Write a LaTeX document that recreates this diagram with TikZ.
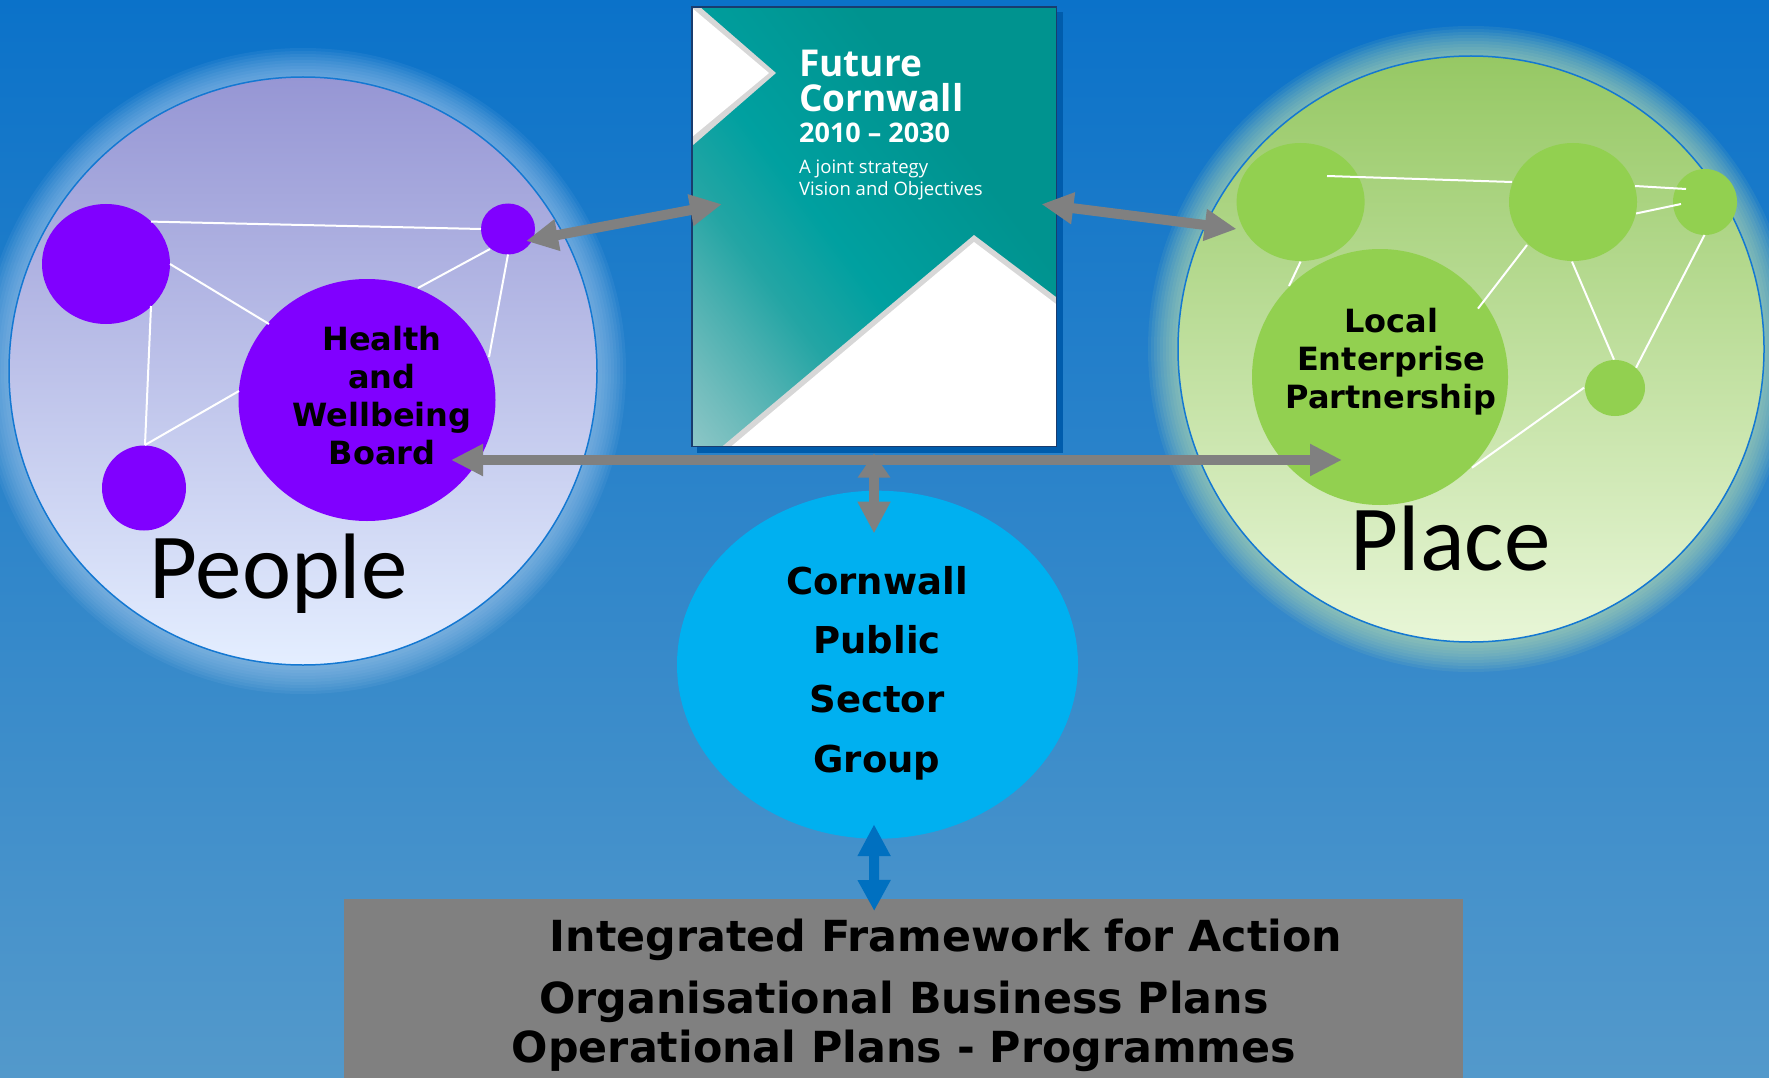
\documentclass[tikz,border=0pt]{standalone}
\usepackage{fontspec}
\newfontfamily\verd{DejaVu Sans}
\newfontfamily\carl{Carlito}
\newfontfamily\opens{Open Sans}
\usetikzlibrary{arrows.meta,shapes.geometric,calc}
\definecolor{bgtop}{RGB}{11,114,201}
\definecolor{bgbot}{RGB}{83,153,203}
\definecolor{purp}{RGB}{128,0,255}
\definecolor{grn}{RGB}{146,208,80}
\definecolor{cyanb}{RGB}{0,176,240}
\definecolor{arrowgrey}{RGB}{128,128,128}
\definecolor{boxgrey}{RGB}{128,128,128}
\definecolor{arrowblue}{RGB}{0,112,192}
\definecolor{teal1}{RGB}{0,147,143}
\definecolor{tealbright}{RGB}{0,160,160}
\definecolor{tealmidc}{RGB}{35,165,164}
\definecolor{tealmidb}{RGB}{75,176,176}
\definecolor{tealmida}{RGB}{112,188,188}
\definecolor{teallight}{RGB}{145,200,200}
\definecolor{pplTop}{RGB}{150,150,212}
\definecolor{pplBot}{RGB}{228,238,255}
\definecolor{plcTop}{RGB}{150,200,100}
\definecolor{plcBot}{RGB}{232,246,215}
\definecolor{rimblue}{RGB}{20,120,210}
\definecolor{pplhalo}{RGB}{175,208,242}
\definecolor{plchalo}{RGB}{205,236,175}
\definecolor{covershadow}{RGB}{0,92,172}
\definecolor{covernavy}{RGB}{25,60,110}
\definecolor{coverline}{RGB}{215,215,215}
\pgfdeclarehorizontalshading{coverfade}{100bp}{color(0bp)=(teallight); color(14bp)=(teallight); color(21bp)=(tealmida); color(28bp)=(tealmidb); color(35bp)=(tealmidc); color(45bp)=(tealbright); color(65bp)=(teal1); color(100bp)=(teal1)}
\begin{document}
\begin{tikzpicture}[x=1pt,y=-1pt,
  pnode/.style={ellipse,fill=purp,inner sep=0pt},
  gnode/.style={ellipse,fill=grn,inner sep=0pt},
  wline/.style={draw=white,line width=2pt},
  garrow/.style={draw=arrowgrey,line width=10pt,{Triangle[length=32pt,width=30pt]}-{Triangle[length=32pt,width=30pt]}},
  barrow/.style={draw=arrowblue,line width=10pt,{Triangle[length=32pt,width=31pt]}-{Triangle[length=31pt,width=31pt]}},
  lbl/.style={font=\verd\bfseries\fontsize{32}{38}\selectfont,align=center,inner sep=0pt},
  big/.style={font=\carl\fontsize{93}{100}\selectfont,inner sep=0pt,anchor=base},
  covertxt/.style={text=white,inner sep=0pt,anchor=base west},
  boxtxt/.style={font=\verd\bfseries\fontsize{42.8}{48}\selectfont,inner sep=0pt,anchor=base},
]
\useasboundingbox (0,0) rectangle (1769,1078);
\fill[top color=bgtop,bottom color=bgbot] (0,0) rectangle (1769,1078);

% halos
\foreach \d in {3,6,...,30}{\fill[pplhalo,opacity=0.08] (303,371) circle ({293+\d});}
\foreach \d in {3,6,...,30}{\fill[plchalo,opacity=0.08] (1471,349) circle ({293+\d});}

% big circles
\shadedraw[top color=pplTop,bottom color=pplBot,draw=rimblue,line width=1.5pt] (303,371) circle (294);
\shadedraw[top color=plcTop,bottom color=plcBot,draw=rimblue,line width=1.5pt] (1471,349) circle (293);

% cover
\fill[covershadow] (697,12) rectangle (1063,453);
\node[fill=teal1,minimum width=364pt,minimum height=439pt,inner sep=0pt,anchor=north west] (cover) at (692,7) {};
\shade[shading=coverfade,shading angle=37] (cover.north west) rectangle (cover.south east);
\begin{scope}
\clip (cover.north west) rectangle (cover.south east);
\fill[coverline] (692,0) -- (776,73) -- (692,146) -- cycle;
\fill[white] (692,8) -- (769,73) -- (692,137) -- cycle;
\fill[coverline] (974,235) -- (1060,300) -- (1060,450) -- (718,450) -- cycle;
\fill[white] (974,242) -- (1060,307) -- (1060,450) -- (727,450) -- cycle;
\end{scope}
\draw[covernavy,line width=1.2pt] (cover.north west) rectangle (cover.south east);
\node[covertxt,font=\opens\bfseries\fontsize{37}{40}\selectfont] (ft1) at (799,77) {Future};
\node[covertxt,font=\opens\bfseries\fontsize{37}{40}\selectfont] (ft2) at (799,112) {Cornwall};
\node[covertxt,font=\opens\bfseries\fontsize{27}{30}\selectfont] (ft3) at (799,143) {2010 – 2030};
\node[covertxt,font=\opens\fontsize{18.5}{22}\selectfont] (ft4) at (799,174) {A joint strategy};
\node[covertxt,font=\opens\fontsize{18.5}{22}\selectfont] (ft5) at (799,196) {Vision and Objectives};

% people nodes
\node[pnode,minimum width=128pt,minimum height=120pt] (pA) at (106,264) {};
\node[pnode,minimum width=54pt,minimum height=51pt] (pB) at (508,229) {};
\node[pnode,minimum width=84pt,minimum height=85pt] (pC) at (144,488) {};
\node[pnode,minimum width=257pt,minimum height=242pt] (hw) at (367,400) {};

% place nodes
\node[gnode,minimum width=128pt,minimum height=118pt] (gA) at (1300.6,202) {};
\node[gnode,minimum width=128pt,minimum height=118pt] (gB) at (1573,202) {};
\node[gnode,minimum width=64pt,minimum height=66pt] (gC) at (1705,202) {};
\node[gnode,minimum width=256pt,minimum height=256pt] (lep) at (1380,377) {};
\node[gnode,minimum width=60pt,minimum height=56pt] (gD) at (1615,388) {};

% central group and box
\node[ellipse,fill=cyanb,inner sep=0pt,minimum width=401pt,minimum height=348pt] (cpsg) at (877.5,664.7) {};
\node[fill=boxgrey,inner sep=0pt,minimum width=1119pt,minimum height=179pt,anchor=north west] (box) at (344,899) {};

% white links, people
\draw[wline] ($(pA.center)+(45,-42.4)$) -- ($(pB.center)+(-27,0)$);
\draw[wline] ($(pA.center)+(64,0)$) -- ($(hw.center)+(-98,-76)$);
\draw[wline] ($(pA.center)+(45,42)$) -- ($(pC.center)+(1,-43)$);
\draw[wline] ($(pB.center)+(-18,20)$) -- ($(hw.center)+(51,-112)$);
\draw[wline] ($(pB.center)+(0,25.5)$) -- ($(hw.center)+(122,-43)$);
\draw[wline] ($(hw.center)+(-128,-9)$) -- ($(pC.center)+(1,-43)$);

% white links, place
\draw[wline] ($(gA.center)+(26.4,-26)$) -- ($(gB.center)+(-61,-20)$);
\draw[wline] ($(gB.center)+(62,-16)$) -- ($(gC.center)+(-19,-13)$);
\draw[wline] ($(gB.center)+(63,11.5)$) -- ($(gC.center)+(-24,2)$);
\draw[wline] ($(gA.center)+(0,59.6)$) -- ($(lep.center)+(-91,-91)$);
\draw[wline] ($(gB.center)+(-46,43)$) -- ($(lep.center)+(98,-68.4)$);
\draw[wline] ($(gB.center)+(-1,59.6)$) -- ($(gD.center)+(-1,-28.4)$);
\draw[wline] ($(gC.center)+(-0.5,33)$) -- ($(gD.center)+(21,-20.3)$);
\draw[wline] ($(gD.center)+(-31,-0.3)$) -- ($(lep.center)+(92,90.7)$);

% labels
\node[lbl] (hwt) at (382,396) {Health\\and\\Wellbeing\\Board};
\node[lbl] (lept) at (1391,362) {Local\\Enterprise\\Partnership};
\node[lbl,font=\verd\bfseries\fontsize{37}{59.3}\selectfont] (cpsgt) at (877,673) {Cornwall\\Public\\Sector\\Group};
\node[big] (ppl) at (278.5,598) {People};
\node[big] (plc) at (1450.5,570) {Place};
\node[boxtxt] (b1) at (946,951) {Integrated Framework for Action};
\node[boxtxt] (b2) at (904,1013) {Organisational Business Plans};
\node[boxtxt] (b3) at (904,1062) {Operational Plans - Programmes};

% arrows
\draw[garrow] ($(pB.center)+(18,12)$) -- ($(cover.west)+(30,-22.5)$);
\draw[garrow] ($(cover.east)+(-15,-22.5)$) -- ($(gA.center)+(-64,27)$);
\draw[garrow] ($(hw.center)+(84,60)$) -- ($(lep.center)+(-38,83)$);
\draw[draw=arrowgrey,line width=10pt,{Triangle[length=24pt,width=31pt]}-{Triangle[length=32pt,width=31pt]}] ($(cpsg.north)+(-3.5,-37)$) -- ($(cpsg.north)+(-3.5,43)$);
\draw[barrow] ($(cpsg.south)+(-3.5,-14.7)$) -- ($(box.north)+(-29.5,12)$);
\end{tikzpicture}
\end{document}
